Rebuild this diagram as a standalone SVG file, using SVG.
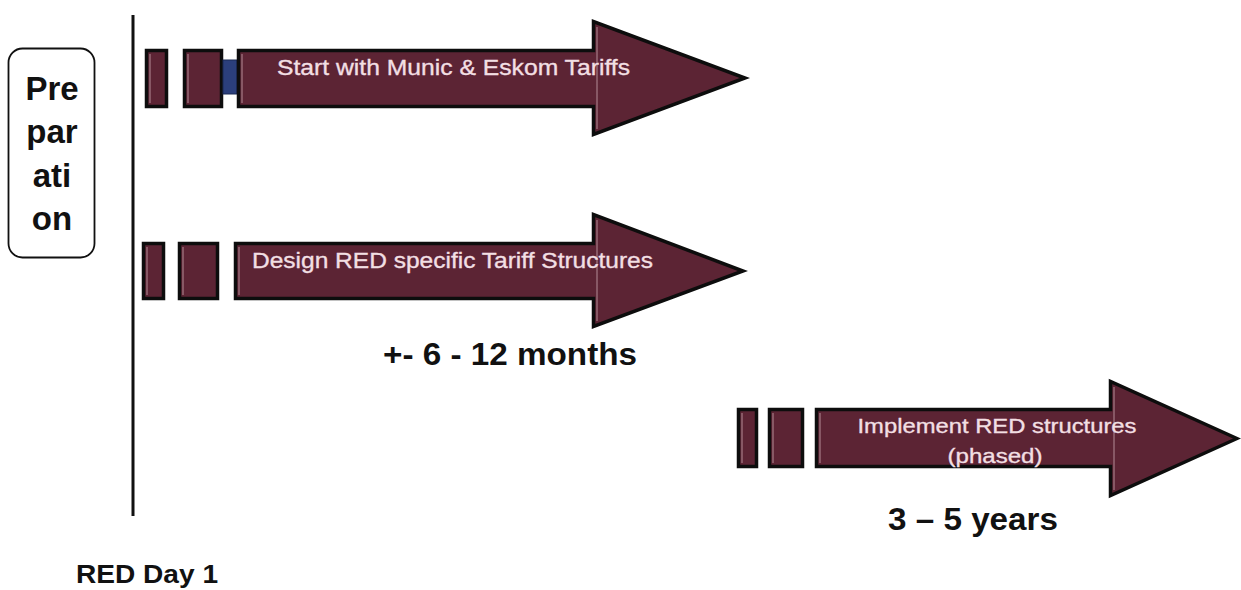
<svg xmlns="http://www.w3.org/2000/svg" width="1241" height="590" viewBox="0 0 1241 590">
<style>
.bar{fill:#5c2434;stroke:#0d0d0d;stroke-width:3.5;stroke-linejoin:miter}
.hl{stroke:#d9b9c0;stroke-width:1;opacity:.7}
.in{font-family:"Liberation Sans",Arial,sans-serif;fill:#f2dfe3;stroke:#f2dfe3;stroke-width:0.35}
.lbl{font-family:"Liberation Sans",Arial,sans-serif;font-weight:bold;fill:#111}
</style>
<rect width="1241" height="590" fill="#ffffff"/>
<g id="preparation">
<rect x="8.5" y="48.5" width="86" height="209" rx="14" fill="#fff" stroke="#111" stroke-width="1.8"/>
<text class="lbl" x="52" y="100" font-size="33" text-anchor="middle">Pre</text>
<text class="lbl" x="52" y="143" font-size="33" text-anchor="middle">par</text>
<text class="lbl" x="52" y="187" font-size="33" text-anchor="middle">ati</text>
<text class="lbl" x="52" y="230" font-size="33" text-anchor="middle">on</text>
</g>
<g id="day1-line">
<line x1="133" y1="15" x2="133" y2="516" stroke="#111" stroke-width="3"/>
</g>
<g id="row1">
<rect class="bar" x="146.5" y="50.5" width="20" height="56"/>
<rect class="bar" x="184.5" y="50.5" width="37" height="56"/>
<rect x="223" y="60" width="14" height="34" fill="#2b3f7c" stroke="#1a2a55" stroke-width="1"/>
<path class="bar" d="M238.5,50.5 H593.5 V21.5 L745,78 L593.5,134.5 V106.5 H238.5 Z"/>
<line class="hl" x1="150" y1="54" x2="150" y2="103"/>
<line class="hl" x1="188" y1="54" x2="188" y2="103"/>
<line class="hl" x1="242" y1="54" x2="242" y2="103"/>
<line class="hl" x1="597" y1="27" x2="597" y2="129"/>
<text class="in" x="277" y="75" font-size="22" textLength="353" lengthAdjust="spacingAndGlyphs">Start with Munic &amp; Eskom Tariffs</text>
</g>
<g id="row2">
<rect class="bar" x="143.5" y="243.5" width="20" height="55"/>
<rect class="bar" x="179.5" y="243.5" width="38" height="55"/>
<path class="bar" d="M235.5,243.5 H593.5 V214.5 L743,271 L593.5,326.5 V298.5 H235.5 Z"/>
<line class="hl" x1="147" y1="247" x2="147" y2="295"/>
<line class="hl" x1="183" y1="247" x2="183" y2="295"/>
<line class="hl" x1="239" y1="247" x2="239" y2="295"/>
<line class="hl" x1="597" y1="220" x2="597" y2="321"/>
<text class="in" x="252" y="268" font-size="22" textLength="401" lengthAdjust="spacingAndGlyphs">Design RED specific Tariff Structures</text>
</g>
<g id="row3">
<rect class="bar" x="738.5" y="409.5" width="18" height="57"/>
<rect class="bar" x="769.5" y="409.5" width="33" height="57"/>
<path class="bar" d="M816.5,409.5 H1110.5 V381.5 L1237,438.5 L1110.5,495.5 V466.5 H816.5 Z"/>
<line class="hl" x1="742" y1="413" x2="742" y2="463"/>
<line class="hl" x1="773" y1="413" x2="773" y2="463"/>
<line class="hl" x1="820" y1="413" x2="820" y2="463"/>
<line class="hl" x1="1114" y1="387" x2="1114" y2="490"/>
<text class="in" x="997" y="433" font-size="21" text-anchor="middle" textLength="279" lengthAdjust="spacingAndGlyphs">Implement RED structures</text>
<text class="in" x="995" y="463" font-size="21" text-anchor="middle" textLength="95" lengthAdjust="spacingAndGlyphs">(phased)</text>
</g>
<g id="labels">
<text class="lbl" x="383" y="365" font-size="32" textLength="254" lengthAdjust="spacingAndGlyphs">+- 6 - 12 months</text>
<text class="lbl" x="888" y="530" font-size="32" textLength="170" lengthAdjust="spacingAndGlyphs">3 – 5 years</text>
<text class="lbl" x="76" y="583" font-size="26" textLength="142" lengthAdjust="spacingAndGlyphs">RED Day 1</text>
</g>
<g id="connectors"/>
</svg>
